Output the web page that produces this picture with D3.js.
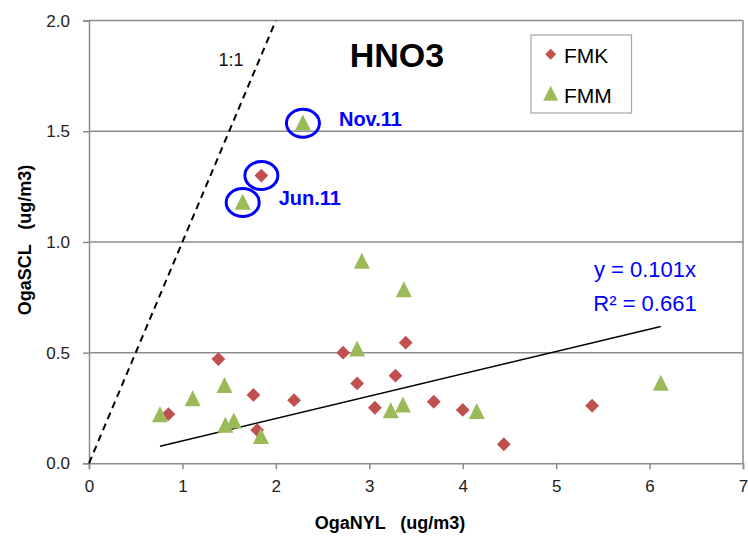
<!DOCTYPE html>
<html><head><meta charset="utf-8">
<script src="https://cdn.jsdelivr.net/npm/d3@7"></script>
<style>body{margin:0;background:#fff}svg{display:block;font-family:"Liberation Sans",Arial,sans-serif}</style>
</head><body><svg id="c" width="748" height="538"></svg>
<script>
const fmkX = [0.85,1.385,1.76,1.80,1.845,2.195,2.72,2.87,3.06,3.28,3.39,3.69,4.00,4.44,5.385];
const fmkY = [0.222,0.471,0.309,0.150,1.30,0.285,0.50,0.361,0.251,0.396,0.545,0.278,0.241,0.086,0.26];
const fmmX = [0.76,1.11,1.45,1.46,1.55,1.645,1.84,2.29,2.87,2.92,3.23,3.36,3.37,4.15,6.12];
const fmmY = [0.218,0.29,0.35,0.17,0.19,1.178,0.12,1.536,0.515,0.911,0.236,0.262,0.783,0.233,0.36];
const xTicks = [0,1,2,3,4,5,6,7];
const yTicks = [0,0.5,1.0,1.5,2.0];
const slope = 0.101, r2 = 0.661;
const highlighted = [{x:2.29,y:1.536,label:"Nov.11"},{x:1.845,y:1.30,label:null},{x:1.645,y:1.178,label:"Jun.11"}];

const svg = d3.select("#c");
const L=89,R=743,T=20.6,B=463.3;
const x = d3.scaleLinear().domain([0,7]).range([L,R]);
const y = d3.scaleLinear().domain([0,2]).range([B,T]);
const grid="#8c8c8c";

svg.append("g").selectAll("line").data(yTicks.filter(d=>d>0)).join("line")
  .attr("x1",L).attr("x2",R).attr("y1",d=>y(d)).attr("y2",d=>y(d))
  .attr("stroke",grid).attr("stroke-width",1.5);
svg.append("line").attr("x1",R).attr("x2",R).attr("y1",T).attr("y2",B).attr("stroke",grid).attr("stroke-width",1.5);

const xa = svg.append("g").attr("transform",`translate(0,${B})`)
  .call(d3.axisBottom(x).tickValues(xTicks).tickSize(6).tickPadding(11).tickFormat(d3.format("d")));
const ya = svg.append("g").attr("transform",`translate(${L},0)`)
  .call(d3.axisLeft(y).tickValues(yTicks).tickSize(6).tickPadding(13).tickFormat(d3.format(".1f")));
[xa,ya].forEach(a=>{
  a.select(".domain").attr("stroke",grid).attr("stroke-width",1.5);
  a.selectAll(".tick line").attr("stroke",grid).attr("stroke-width",1.5);
  a.selectAll(".tick text").attr("font-size",17).attr("fill","#222").attr("font-family","Liberation Sans, Arial, sans-serif");
});

svg.append("line").attr("x1",x(0)).attr("y1",y(0)).attr("x2",x(2)).attr("y2",y(2))
  .attr("stroke","#000").attr("stroke-width",2).attr("stroke-dasharray","7,5");
svg.append("text").attr("x",231).attr("y",66).attr("text-anchor","middle").attr("font-size",18).attr("fill","#111").text("1:1");

const allX = fmkX.concat(fmmX);
const x0 = d3.min(allX), x1 = d3.max(allX);
svg.append("line").attr("x1",x(x0)).attr("y1",y(slope*x0)).attr("x2",x(x1)).attr("y2",y(slope*x1))
  .attr("stroke","#000").attr("stroke-width",1.5);

const red="#C0504D", green="#9BBB59";
const diamond = d3.symbol().type(d3.symbolSquare).size(95)();
const tri = (s)=>`M0,${-s*0.55}L${s*0.5},${s*0.45}L${-s*0.5},${s*0.45}Z`;

svg.append("g").selectAll("path").data(d3.zip(fmkX,fmkY)).join("path")
  .attr("d",diamond).attr("fill",red)
  .attr("transform",d=>`translate(${x(d[0])},${y(d[1])}) rotate(45)`);
svg.append("g").selectAll("path").data(d3.zip(fmmX,fmmY)).join("path")
  .attr("d",tri(16)).attr("fill",green)
  .attr("transform",d=>`translate(${x(d[0])},${y(d[1])})`);

const blue="#0000FF";
svg.append("g").selectAll("ellipse").data(highlighted).join("ellipse")
  .attr("cx",d=>x(d.x)).attr("cy",d=>y(d.y)).attr("rx",16.5).attr("ry",14)
  .attr("fill","none").attr("stroke",blue).attr("stroke-width",3);
svg.append("g").selectAll("text").data(highlighted.filter(d=>d.label)).join("text")
  .attr("x",d=>x(d.x)+36).attr("y",d=>y(d.y)+2.5)
  .attr("font-size",20).attr("font-weight","bold").attr("fill",blue).text(d=>d.label);

svg.append("text").attr("x",397).attr("y",67).attr("text-anchor","middle")
  .attr("font-size",34).attr("font-weight","bold").attr("fill","#000").text("HNO3");

svg.append("text").attr("x",645).attr("y",277).attr("text-anchor","middle").attr("font-size",22).attr("fill",blue).text("y = 0.101x");
svg.append("text").attr("x",645).attr("y",310.5).attr("text-anchor","middle").attr("font-size",22).attr("fill",blue).text("R² = " + r2.toFixed(3));

const lg = svg.append("g");
lg.append("rect").attr("x",531).attr("y",35).attr("width",100.5).attr("height",78).attr("fill","#fff").attr("stroke","#a6a6a6").attr("stroke-width",1.2);
lg.append("path").attr("d",d3.symbol().type(d3.symbolSquare).size(60)()).attr("fill",red).attr("transform","translate(550.7,54.3) rotate(45)");
lg.append("path").attr("d",tri(15)).attr("fill",green).attr("transform","translate(550.7,94)");
lg.append("text").attr("x",564).attr("y",62.5).attr("font-size",21).attr("fill","#000").text("FMK");
lg.append("text").attr("x",564).attr("y",102.5).attr("font-size",21).attr("fill","#000").text("FMM");

svg.append("text").attr("x",390).attr("y",529).attr("text-anchor","middle").attr("font-size",18).attr("font-weight","bold")
  .attr("fill","#000").style("white-space","pre").text("OgaNYL   (ug/m3)");
svg.append("text").attr("transform","translate(31,240) rotate(-90)").attr("text-anchor","middle").attr("font-size",18).attr("font-weight","bold")
  .attr("fill","#000").style("white-space","pre").text("OgaSCL   (ug/m3)");
</script></body></html>
